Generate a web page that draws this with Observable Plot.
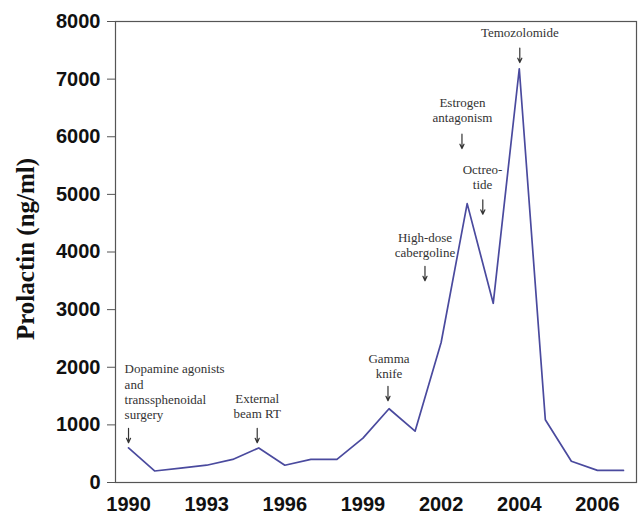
<!DOCTYPE html>
<html>
<head>
<meta charset="utf-8">
<script src="https://cdn.jsdelivr.net/npm/d3@7"></script>
<script src="https://cdn.jsdelivr.net/npm/@observablehq/plot@0.6"></script>
<style>
  html, body { margin: 0; padding: 0; background: #fff; }
  #chart svg { display: block; }
</style>
</head>
<body>
<div id="chart"></div>
<script>
// Prolactin measurements, equally spaced along the x axis (index order)
const prolactin = [600, 200, 250, 300, 400, 600, 300, 400, 400, 770, 1280, 890, 2430, 4840, 3110, 7180, 1090, 370, 210, 210];

// x tick labels and the measurement index at which each sits
const xTickLabels = ["1990", "1993", "1996", "1999", "2002", "2004", "2006"];
const xTickIndex = [0, 3, 6, 9, 12, 15, 18];

// y ticks
const yTicks = [0, 1000, 2000, 3000, 4000, 5000, 6000, 7000, 8000];

// annotations (text block centre, in data units) and their arrows
const noteText = [
  "Dopamine agonists\nand\ntranssphenoidal\nsurgery",
  "External\nbeam RT",
  "Gamma\nknife",
  "High-dose\ncabergoline",
  "Estrogen\nantagonism",
  "Octreo-\ntide",
  "Temozolomide"
];
const noteX = [-0.15, 4.94, 10.0, 11.38, 12.82, 13.59, 15.02];
const noteY = [1580, 1337, 2031, 4123, 6476, 5304, 7812];
const noteLeftAligned = [true, false, false, false, false, false, false];
const arrowX = [0, 4.94, 9.96, 11.38, 12.8, 13.6, 15.02];
const arrowY = [816, 816, 1545, 3628, 5920, 4780, 7413];

const yLabel = "Prolactin (ng/ml)";

const points = prolactin.map((v, i) => ({i, v}));
const notes = noteText.map((t, k) => ({t, x: noteX[k], y: noteY[k], left: noteLeftAligned[k]}));
const arrows = arrowX.map((x, k) => ({x, y1: arrowY[k] + 125, y2: arrowY[k] - 125}));

const serif = "'Liberation Serif', 'Times New Roman', serif";
const noteStyle = {x: "x", y: "y", text: "t", lineAnchor: "middle", lineHeight: 1.18,
  fontFamily: serif, fontSize: 13, fontWeight: "normal", fill: "#333"};

const chart = Plot.plot({
  width: 638,
  height: 515,
  marginLeft: 115,
  marginRight: 2,
  marginTop: 21,
  marginBottom: 33,
  style: {fontFamily: "'Liberation Sans', Arial, sans-serif", fontSize: "20px", fontWeight: "bold", color: "#111", background: "#fff"},
  x: {type: "linear", domain: [-0.5, 19.5]},
  y: {domain: [0, 8000]},
  marks: [
    Plot.frame({stroke: "#555", strokeWidth: 1.2}),
    Plot.axisY({ticks: yTicks, tickSize: 8, tickPadding: 7, tickFormat: d => String(d), label: null, stroke: "#555", fontSize: 20}),
    Plot.axisX({ticks: xTickIndex, tickSize: 0, tickPadding: 14, tickFormat: d => xTickLabels[xTickIndex.indexOf(d)], label: null, fontSize: 20}),
    Plot.line(points, {x: "i", y: "v", stroke: "#4a4a9e", strokeWidth: 1.7}),
    Plot.text(notes.filter(d => d.left), {...noteStyle, textAnchor: "start"}),
    Plot.text(notes.filter(d => !d.left), {...noteStyle, textAnchor: "middle"}),
    Plot.arrow(arrows, {x: "x", y1: "y1", y2: "y2", stroke: "#333", strokeWidth: 1.2, headLength: 7, headAngle: 50}),
    Plot.text([yLabel], {frameAnchor: "left", dx: -90, dy: -3, rotate: -90, textAnchor: "middle", fontFamily: serif, fontSize: 25, fontWeight: "bold", fill: "#111"})
  ]
});
document.getElementById("chart").appendChild(chart);
</script>
</body>
</html>
